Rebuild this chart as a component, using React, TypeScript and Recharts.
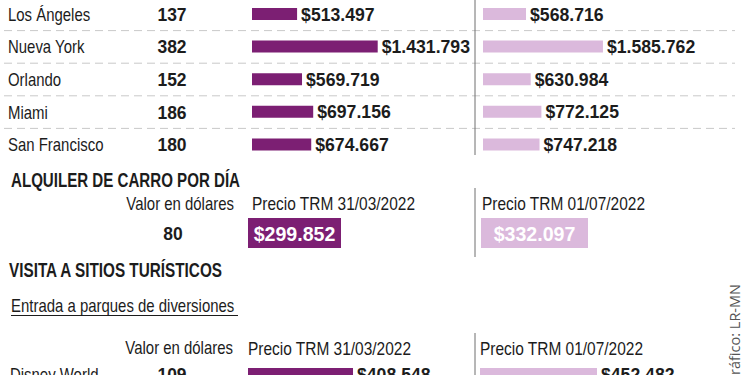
import React from 'react';
import { BarChart, Bar, XAxis, YAxis, LabelList } from 'recharts';

// ---------- data ----------
const cities = ['Los Ángeles', 'Nueva York', 'Orlando', 'Miami', 'San Francisco'];
const cityUsd = [137, 382, 152, 186, 180];
const cityCopMar = [513497, 1431793, 569719, 697156, 674667];
const cityCopJul = [568716, 1585762, 630984, 772125, 747218];

const carLabel = ['Carro'];
const carUsd = [80];
const carCopMar = [299852];
const carCopJul = [332097];

const parks = ['Disney World'];
const parkUsd = [109];
const parkCopMar = [408548];
const parkCopJul = [452482];

const headerUsd = 'Valor en dólares';
const headerMar = 'Precio TRM 31/03/2022';
const headerJul = 'Precio TRM 01/07/2022';
const titleCar = 'ALQUILER DE CARRO POR DÍA';
const titleVisit = 'VISITA A SITIOS TURÍSTICOS';
const subtitleParks = 'Entrada a parques de diversiones';
const credit = 'Gráfico: LR-MN';

// ---------- styles ----------
const PURPLE = '#7c1f73';
const LIGHT = '#dbb9dc';
const INK = '#1c1c1c';
const SANS = '"Liberation Sans", Arial, sans-serif';

const fmt = (v: number) => '$' + String(Math.round(v)).replace(/\B(?=(\d{3})+(?!\d))/g, '.');

const cityData = cities.map((name, i) => ({ name, usd: cityUsd[i], mar: cityCopMar[i], jul: cityCopJul[i] }));
const carData = carLabel.map((name, i) => ({ name, usd: carUsd[i], mar: carCopMar[i], jul: carCopJul[i] }));
const parkData = parks.map((name, i) => ({ name, usd: parkUsd[i], mar: parkCopMar[i], jul: parkCopJul[i] }));

// condensed text: real text, horizontally narrowed around its anchor point
const T = ({ x, y, children, size = 18, weight = 400, sx = 0.83, anchor = 'start', fill = INK }: any) => (
  <text
    transform={`translate(${x} ${y}) scale(${sx} 1)`}
    textAnchor={anchor}
    fontFamily={SANS}
    fontSize={size}
    fontWeight={weight}
    fill={fill}
  >
    {children}
  </text>
);

const makeRowTick = (rows: { usd: number }[], nameX: number, dashed: boolean, bandHalf: number) => (props: any) => {
  const { y, payload } = props;
  const i = payload?.index ?? props.index ?? 0;
  return (
    <g>
      <T x={nameX} y={y + 6.5} sx={0.83}>{payload.value}</T>
      <T x={172} y={y + 6.5} anchor="middle" weight={700} sx={0.97}>{rows[i]?.usd}</T>
      {dashed && i < rows.length - 1 && (
        <line x1={4} x2={735} y1={y + bandHalf} y2={y + bandHalf} stroke="#c9c9c9" strokeWidth={1} strokeDasharray="8 5" />
      )}
    </g>
  );
};

const rightLabel = (props: any) => {
  const { x, y, width, height, value } = props;
  return (
    <T x={x + width + 4} y={y + height / 2 + 6.5} weight={700} sx={0.98}>{fmt(value)}</T>
  );
};

const insideLabel = (props: any) => {
  const { x, y, width, height, value } = props;
  return (
    <T x={x + width / 2} y={y + height / 2 + 7.5} anchor="middle" weight={700} size={20} sx={0.98} fill="#ffffff">
      {fmt(value)}
    </T>
  );
};

const abs = (left: number, top: number): React.CSSProperties => ({ position: 'absolute', left, top });

export default function App() {
  const cityTick = makeRowTick(cityData, 8, true, 16.3);
  const parkTick = makeRowTick(parkData, 10, false, 16);
  return (
    <div style={{ position: 'absolute', left: 0, top: 0, width: 750, height: 375, overflow: 'hidden', background: '#fff' }}>
      <style>{`.recharts-surface{overflow:visible}`}</style>

      {/* top: cities, Mar */}
      <div style={abs(0, -2)}>
        <BarChart width={475} height={163} data={cityData} layout="vertical" margin={{ top: 0, right: 0, bottom: 0, left: 0 }} barCategoryGap={0}>
          <XAxis type="number" hide domain={[0, 2540000]} />
          <YAxis type="category" dataKey="name" width={252} axisLine={false} tickLine={false} interval={0} tick={cityTick} />
          <Bar dataKey="mar" fill={PURPLE} barSize={12} isAnimationActive={false}>
            <LabelList dataKey="mar" content={rightLabel} />
          </Bar>
        </BarChart>
      </div>
      {/* top: cities, Jul */}
      <div style={abs(475, -2)}>
        <BarChart width={275} height={163} data={cityData} layout="vertical" margin={{ top: 0, right: 0, bottom: 0, left: 8 }} barCategoryGap={0}>
          <XAxis type="number" hide domain={[0, 3530000]} />
          <YAxis type="category" dataKey="name" hide />
          <Bar dataKey="jul" fill={LIGHT} barSize={12} isAnimationActive={false}>
            <LabelList dataKey="jul" content={rightLabel} />
          </Bar>
        </BarChart>
      </div>

      {/* car rental */}
      <div style={abs(248, 218)}>
        <BarChart width={227} height={30} data={carData} layout="vertical" margin={{ top: 0, right: 0, bottom: 0, left: 0 }} barCategoryGap={0}>
          <XAxis type="number" hide domain={[0, 731900]} />
          <YAxis type="category" dataKey="name" hide />
          <Bar dataKey="mar" fill={PURPLE} isAnimationActive={false}>
            <LabelList dataKey="mar" content={insideLabel} />
          </Bar>
        </BarChart>
      </div>
      <div style={abs(481, 218)}>
        <BarChart width={269} height={30} data={carData} layout="vertical" margin={{ top: 0, right: 0, bottom: 0, left: 0 }} barCategoryGap={0}>
          <XAxis type="number" hide domain={[0, 834900]} />
          <YAxis type="category" dataKey="name" hide />
          <Bar dataKey="jul" fill={LIGHT} isAnimationActive={false}>
            <LabelList dataKey="jul" content={insideLabel} />
          </Bar>
        </BarChart>
      </div>

      {/* parks */}
      <div style={abs(0, 358)}>
        <BarChart width={475} height={32} data={parkData} layout="vertical" margin={{ top: 0, right: 0, bottom: 0, left: 0 }} barCategoryGap={0}>
          <XAxis type="number" hide domain={[0, 883200]} />
          <YAxis type="category" dataKey="name" width={248} axisLine={false} tickLine={false} interval={0} tick={parkTick} />
          <Bar dataKey="mar" fill={PURPLE} barSize={12} isAnimationActive={false}>
            <LabelList dataKey="mar" content={rightLabel} />
          </Bar>
        </BarChart>
      </div>
      <div style={abs(475, 358)}>
        <BarChart width={275} height={32} data={parkData} layout="vertical" margin={{ top: 0, right: 0, bottom: 0, left: 5 }} barCategoryGap={0}>
          <XAxis type="number" hide domain={[0, 1044200]} />
          <YAxis type="category" dataKey="name" hide />
          <Bar dataKey="jul" fill={LIGHT} barSize={12} isAnimationActive={false}>
            <LabelList dataKey="jul" content={rightLabel} />
          </Bar>
        </BarChart>
      </div>

      {/* static text and separators */}
      <svg width={750} height={375} style={{ position: 'absolute', left: 0, top: 0, pointerEvents: 'none' }}>
        <line x1={475} x2={475} y1={0} y2={155} stroke="#6f6f6f" strokeWidth={1} />
        <line x1={475} x2={475} y1={188} y2={257} stroke="#6f6f6f" strokeWidth={1} />
        <line x1={475} x2={475} y1={333} y2={375} stroke="#6f6f6f" strokeWidth={1} />

        <T x={11} y={187} size={20} weight={700} sx={0.755}>{titleCar}</T>
        <T x={234} y={210} anchor="end" sx={0.83}>{headerUsd}</T>
        <T x={252} y={210} sx={0.86}>{headerMar}</T>
        <T x={482} y={210} sx={0.86}>{headerJul}</T>
        <T x={173} y={240} anchor="middle" weight={700} sx={0.97}>{carData[0].usd}</T>

        <T x={9} y={277} size={20} weight={700} sx={0.765}>{titleVisit}</T>
        <T x={11} y={312} sx={0.83}>{subtitleParks}</T>
        <line x1={11} x2={238} y1={315.5} y2={315.5} stroke={INK} strokeWidth={1} />
        <T x={233} y={354} anchor="end" sx={0.83}>{headerUsd}</T>
        <T x={248} y={355} sx={0.86}>{headerMar}</T>
        <T x={480} y={355} sx={0.86}>{headerJul}</T>

        <text x={740} y={284} transform="rotate(-90 740 284)" textAnchor="end" fontFamily='"Open Sans", "Liberation Sans", sans-serif' fontSize={14.5} fill="#555">{credit}</text>
      </svg>
    </div>
  );
}
